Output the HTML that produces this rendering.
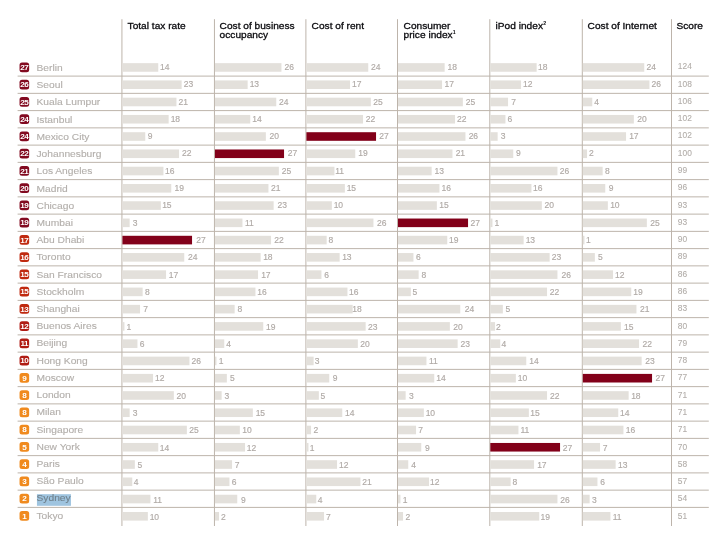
<!DOCTYPE html>
<html><head><meta charset="utf-8"><title>Cost index</title>
<style>
html,body{margin:0;padding:0;background:#fff;}
body{width:718px;height:536px;overflow:hidden;}
svg{display:block;font-family:"Liberation Sans",Arial,Helvetica,sans-serif;}
.ln{stroke:#bdb4ab;stroke-width:1;fill:none;}
.hd{font-size:9.8px;fill:#0a0a0e;stroke:#0a0a0e;stroke-width:0.3px;}
.sup{font-size:5.1px;font-weight:bold;stroke-width:0;}
.b{fill:#e3e0db;}
.m{fill:#820019;}
.n{font-size:8.5px;fill:#b0aaa6;stroke:#b0aaa6;stroke-width:0.15px;}
.s{font-size:8.4px;fill:#b3aeaa;stroke:#b3aeaa;stroke-width:0.1px;}
.c{font-size:9.4px;fill:#b3afab;stroke:#b3afab;stroke-width:0.12px;}
.k{font-size:7.4px;font-weight:bold;fill:#fff;text-anchor:middle;letter-spacing:-0.4px;}
.sel{fill:#9fc4df;}
.cs{fill:#6f808c;stroke:#6f808c;stroke-width:0.1px;}
</style></head><body>
<svg width="718" height="536" viewBox="0 0 718 536">

<line class="ln" x1="121.93" y1="19.2" x2="121.93" y2="526"/>
<line class="ln" x1="214.45" y1="19.2" x2="214.45" y2="526"/>
<line class="ln" x1="305.90" y1="19.2" x2="305.90" y2="526"/>
<line class="ln" x1="397.50" y1="19.2" x2="397.50" y2="526"/>
<line class="ln" x1="489.80" y1="19.2" x2="489.80" y2="526"/>
<line class="ln" x1="582.30" y1="19.2" x2="582.30" y2="526"/>
<line class="ln" x1="671.50" y1="19.2" x2="671.50" y2="526"/>
<line class="ln" x1="17.6" y1="76.10" x2="708.8" y2="76.10"/>
<line class="ln" x1="17.6" y1="93.35" x2="708.8" y2="93.35"/>
<line class="ln" x1="17.6" y1="110.60" x2="708.8" y2="110.60"/>
<line class="ln" x1="17.6" y1="127.86" x2="708.8" y2="127.86"/>
<line class="ln" x1="17.6" y1="145.11" x2="708.8" y2="145.11"/>
<line class="ln" x1="17.6" y1="162.36" x2="708.8" y2="162.36"/>
<line class="ln" x1="17.6" y1="179.61" x2="708.8" y2="179.61"/>
<line class="ln" x1="17.6" y1="196.86" x2="708.8" y2="196.86"/>
<line class="ln" x1="17.6" y1="214.12" x2="708.8" y2="214.12"/>
<line class="ln" x1="17.6" y1="231.37" x2="708.8" y2="231.37"/>
<line class="ln" x1="17.6" y1="248.62" x2="708.8" y2="248.62"/>
<line class="ln" x1="17.6" y1="265.87" x2="708.8" y2="265.87"/>
<line class="ln" x1="17.6" y1="283.12" x2="708.8" y2="283.12"/>
<line class="ln" x1="17.6" y1="300.38" x2="708.8" y2="300.38"/>
<line class="ln" x1="17.6" y1="317.63" x2="708.8" y2="317.63"/>
<line class="ln" x1="17.6" y1="334.88" x2="708.8" y2="334.88"/>
<line class="ln" x1="17.6" y1="352.13" x2="708.8" y2="352.13"/>
<line class="ln" x1="17.6" y1="369.38" x2="708.8" y2="369.38"/>
<line class="ln" x1="17.6" y1="386.64" x2="708.8" y2="386.64"/>
<line class="ln" x1="17.6" y1="403.89" x2="708.8" y2="403.89"/>
<line class="ln" x1="17.6" y1="421.14" x2="708.8" y2="421.14"/>
<line class="ln" x1="17.6" y1="438.39" x2="708.8" y2="438.39"/>
<line class="ln" x1="17.6" y1="455.64" x2="708.8" y2="455.64"/>
<line class="ln" x1="17.6" y1="472.90" x2="708.8" y2="472.90"/>
<line class="ln" x1="17.6" y1="490.15" x2="708.8" y2="490.15"/>
<line class="ln" x1="17.6" y1="507.40" x2="708.8" y2="507.40"/>
<text class="hd" transform="translate(127.60 28.70) scale(1.035 1)">Total tax rate</text>
<text class="hd" transform="translate(219.60 28.70) scale(1.035 1)">Cost of business</text>
<text class="hd" transform="translate(219.60 37.90) scale(1.035 1)">occupancy</text>
<text class="hd" transform="translate(311.60 28.70) scale(1.035 1)">Cost of rent</text>
<text class="hd" transform="translate(403.60 28.70) scale(1.035 1)">Consumer</text>
<text class="hd" transform="translate(403.60 37.90) scale(1.035 1)">price index<tspan class="sup" dx="0.2" dy="-3.5">1</tspan></text>
<text class="hd" transform="translate(495.60 28.70) scale(1.035 1)">iPod index<tspan class="sup" dx="0.2" dy="-3.5">2</tspan></text>
<text class="hd" transform="translate(587.60 28.70) scale(1.035 1)">Cost of Internet</text>
<text class="hd" transform="translate(676.50 28.70) scale(1.035 1)">Score</text>
<rect x="19.55" y="62.50" width="9.6" height="9.8" rx="2.5" fill="#820a20"/>
<text class="k" transform="translate(24.35 70.10) scale(1.1 1)">27</text>
<text class="c" transform="translate(36.50 71.05) scale(1.09 1)">Berlin</text>
<rect class="b" x="122.43" y="63.15" width="35.82" height="8.6"/>
<text class="n" transform="translate(160.03 69.95) scale(1.0 1)">14</text>
<rect class="b" x="214.95" y="63.15" width="66.50" height="8.6"/>
<text class="n" transform="translate(284.62 69.95) scale(1.0 1)">26</text>
<rect class="b" x="306.40" y="63.15" width="61.85" height="8.6"/>
<text class="n" transform="translate(371.12 69.95) scale(1.0 1)">24</text>
<rect class="b" x="398.00" y="63.15" width="46.65" height="8.6"/>
<text class="n" transform="translate(447.43 69.95) scale(1.0 1)">18</text>
<rect class="b" x="490.30" y="63.15" width="46.35" height="8.6"/>
<text class="n" transform="translate(537.93 69.95) scale(1.0 1)">18</text>
<rect class="b" x="582.80" y="63.15" width="61.45" height="8.6"/>
<text class="n" transform="translate(646.42 69.95) scale(1.0 1)">24</text>
<text class="s" transform="translate(677.85 69.35) scale(1.0 1)">124</text>
<rect x="19.55" y="79.75" width="9.6" height="9.8" rx="2.5" fill="#820a20"/>
<text class="k" transform="translate(24.35 87.35) scale(1.1 1)">26</text>
<text class="c" transform="translate(36.50 88.26) scale(1.09 1)">Seoul</text>
<rect class="b" x="122.43" y="80.41" width="59.22" height="8.6"/>
<text class="n" transform="translate(183.83 87.26) scale(1.0 1)">23</text>
<rect class="b" x="214.95" y="80.41" width="32.70" height="8.6"/>
<text class="n" transform="translate(249.63 87.26) scale(1.0 1)">13</text>
<rect class="b" x="306.40" y="80.41" width="43.65" height="8.6"/>
<text class="n" transform="translate(352.03 87.26) scale(1.0 1)">17</text>
<rect class="b" x="398.00" y="80.41" width="44.05" height="8.6"/>
<text class="n" transform="translate(444.53 87.26) scale(1.0 1)">17</text>
<rect class="b" x="490.30" y="80.41" width="30.75" height="8.6"/>
<text class="n" transform="translate(523.03 87.26) scale(1.0 1)">12</text>
<rect class="b" x="582.80" y="80.41" width="66.65" height="8.6"/>
<text class="n" transform="translate(651.62 87.26) scale(1.0 1)">26</text>
<text class="s" transform="translate(677.85 86.63) scale(1.0 1)">108</text>
<rect x="19.55" y="97.00" width="9.6" height="9.8" rx="2.5" fill="#820a20"/>
<text class="k" transform="translate(24.35 104.60) scale(1.1 1)">25</text>
<text class="c" transform="translate(36.50 105.47) scale(1.09 1)">Kuala Lumpur</text>
<rect class="b" x="122.43" y="97.68" width="54.02" height="8.6"/>
<text class="n" transform="translate(178.62 104.56) scale(1.0 1)">21</text>
<rect class="b" x="214.95" y="97.68" width="61.30" height="8.6"/>
<text class="n" transform="translate(278.93 104.56) scale(1.0 1)">24</text>
<rect class="b" x="306.40" y="97.68" width="64.45" height="8.6"/>
<text class="n" transform="translate(373.23 104.56) scale(1.0 1)">25</text>
<rect class="b" x="398.00" y="97.68" width="64.85" height="8.6"/>
<text class="n" transform="translate(465.73 104.56) scale(1.0 1)">25</text>
<rect class="b" x="490.30" y="97.68" width="17.75" height="8.6"/>
<text class="n" transform="translate(511.22 104.56) scale(1.0 1)">7</text>
<rect class="b" x="582.80" y="97.68" width="9.45" height="8.6"/>
<text class="n" transform="translate(594.35 104.56) scale(1.0 1)">4</text>
<text class="s" transform="translate(677.85 103.92) scale(1.0 1)">106</text>
<rect x="19.55" y="114.26" width="9.6" height="9.8" rx="2.5" fill="#820a20"/>
<text class="k" transform="translate(24.35 121.86) scale(1.1 1)">24</text>
<text class="c" transform="translate(36.50 122.69) scale(1.09 1)">Istanbul</text>
<rect class="b" x="122.43" y="114.94" width="46.22" height="8.6"/>
<text class="n" transform="translate(170.63 121.87) scale(1.0 1)">18</text>
<rect class="b" x="214.95" y="114.94" width="35.30" height="8.6"/>
<text class="n" transform="translate(252.23 121.87) scale(1.0 1)">14</text>
<rect class="b" x="306.40" y="114.94" width="56.65" height="8.6"/>
<text class="n" transform="translate(365.73 121.87) scale(1.0 1)">22</text>
<rect class="b" x="398.00" y="114.94" width="57.05" height="8.6"/>
<text class="n" transform="translate(456.93 121.87) scale(1.0 1)">22</text>
<rect class="b" x="490.30" y="114.94" width="15.15" height="8.6"/>
<text class="n" transform="translate(507.62 121.87) scale(1.0 1)">6</text>
<rect class="b" x="582.80" y="114.94" width="51.05" height="8.6"/>
<text class="n" transform="translate(637.33 121.87) scale(1.0 1)">20</text>
<text class="s" transform="translate(677.85 121.20) scale(1.0 1)">102</text>
<rect x="19.55" y="131.51" width="9.6" height="9.8" rx="2.5" fill="#820a20"/>
<text class="k" transform="translate(24.35 139.11) scale(1.1 1)">24</text>
<text class="c" transform="translate(36.50 139.90) scale(1.09 1)">Mexico City</text>
<rect class="b" x="122.43" y="132.21" width="22.82" height="8.6"/>
<text class="n" transform="translate(147.65 139.18) scale(1.0 1)">9</text>
<rect class="b" x="214.95" y="132.21" width="50.90" height="8.6"/>
<text class="n" transform="translate(269.53 139.18) scale(1.0 1)">20</text>
<rect class="m" x="306.40" y="132.21" width="69.65" height="8.6"/>
<text class="n" transform="translate(379.23 139.18) scale(1.0 1)">27</text>
<rect class="b" x="398.00" y="132.21" width="67.45" height="8.6"/>
<text class="n" transform="translate(468.63 139.18) scale(1.0 1)">26</text>
<rect class="b" x="490.30" y="132.21" width="7.35" height="8.6"/>
<text class="n" transform="translate(500.63 139.18) scale(1.0 1)">3</text>
<rect class="b" x="582.80" y="132.21" width="43.25" height="8.6"/>
<text class="n" transform="translate(629.13 139.18) scale(1.0 1)">17</text>
<text class="s" transform="translate(677.85 138.48) scale(1.0 1)">102</text>
<rect x="19.55" y="148.76" width="9.6" height="9.8" rx="2.5" fill="#820a20"/>
<text class="k" transform="translate(24.35 156.36) scale(1.1 1)">22</text>
<text class="c" transform="translate(36.50 157.11) scale(1.09 1)">Johannesburg</text>
<rect class="b" x="122.43" y="149.47" width="56.62" height="8.6"/>
<text class="n" transform="translate(181.93 156.48) scale(1.0 1)">22</text>
<rect class="m" x="214.95" y="149.47" width="69.10" height="8.6"/>
<text class="n" transform="translate(287.73 156.48) scale(1.0 1)">27</text>
<rect class="b" x="306.40" y="149.47" width="48.85" height="8.6"/>
<text class="n" transform="translate(358.33 156.48) scale(1.0 1)">19</text>
<rect class="b" x="398.00" y="149.47" width="54.45" height="8.6"/>
<text class="n" transform="translate(455.63 156.48) scale(1.0 1)">21</text>
<rect class="b" x="490.30" y="149.47" width="22.95" height="8.6"/>
<text class="n" transform="translate(515.95 156.48) scale(1.0 1)">9</text>
<rect class="b" x="582.80" y="149.47" width="4.25" height="8.6"/>
<text class="n" transform="translate(588.93 156.48) scale(1.0 1)">2</text>
<text class="s" transform="translate(677.85 155.76) scale(1.0 1)">100</text>
<rect x="19.55" y="166.01" width="9.6" height="9.8" rx="2.5" fill="#820a20"/>
<text class="k" transform="translate(24.35 173.61) scale(1.1 1)">21</text>
<text class="c" transform="translate(36.50 174.32) scale(1.09 1)">Los Angeles</text>
<rect class="b" x="122.43" y="166.73" width="41.02" height="8.6"/>
<text class="n" transform="translate(164.93 173.79) scale(1.0 1)">16</text>
<rect class="b" x="214.95" y="166.73" width="63.90" height="8.6"/>
<text class="n" transform="translate(281.73 173.79) scale(1.0 1)">25</text>
<rect class="b" x="306.40" y="166.73" width="28.05" height="8.6"/>
<text class="n" transform="translate(335.13 173.79) scale(1.0 1)">11</text>
<rect class="b" x="398.00" y="166.73" width="33.65" height="8.6"/>
<text class="n" transform="translate(434.43 173.79) scale(1.0 1)">13</text>
<rect class="b" x="490.30" y="166.73" width="67.15" height="8.6"/>
<text class="n" transform="translate(559.83 173.79) scale(1.0 1)">26</text>
<rect class="b" x="582.80" y="166.73" width="19.85" height="8.6"/>
<text class="n" transform="translate(605.08 173.79) scale(1.0 1)">8</text>
<text class="s" transform="translate(677.85 173.05) scale(1.0 1)">99</text>
<rect x="19.55" y="183.26" width="9.6" height="9.8" rx="2.5" fill="#820a20"/>
<text class="k" transform="translate(24.35 190.86) scale(1.1 1)">20</text>
<text class="c" transform="translate(36.50 191.53) scale(1.09 1)">Madrid</text>
<rect class="b" x="122.43" y="184.00" width="48.82" height="8.6"/>
<text class="n" transform="translate(174.53 191.10) scale(1.0 1)">19</text>
<rect class="b" x="214.95" y="184.00" width="53.50" height="8.6"/>
<text class="n" transform="translate(271.12 191.10) scale(1.0 1)">21</text>
<rect class="b" x="306.40" y="184.00" width="38.45" height="8.6"/>
<text class="n" transform="translate(346.63 191.10) scale(1.0 1)">15</text>
<rect class="b" x="398.00" y="184.00" width="41.45" height="8.6"/>
<text class="n" transform="translate(441.43 191.10) scale(1.0 1)">16</text>
<rect class="b" x="490.30" y="184.00" width="41.15" height="8.6"/>
<text class="n" transform="translate(532.93 191.10) scale(1.0 1)">16</text>
<rect class="b" x="582.80" y="184.00" width="22.45" height="8.6"/>
<text class="n" transform="translate(608.75 191.10) scale(1.0 1)">9</text>
<text class="s" transform="translate(677.85 190.33) scale(1.0 1)">96</text>
<rect x="19.55" y="200.52" width="9.6" height="9.8" rx="2.5" fill="#820a20"/>
<text class="k" transform="translate(24.35 208.12) scale(1.1 1)">19</text>
<text class="c" transform="translate(36.50 208.75) scale(1.09 1)">Chicago</text>
<rect class="b" x="122.43" y="201.26" width="38.42" height="8.6"/>
<text class="n" transform="translate(162.13 208.41) scale(1.0 1)">15</text>
<rect class="b" x="214.95" y="201.26" width="58.70" height="8.6"/>
<text class="n" transform="translate(277.62 208.41) scale(1.0 1)">23</text>
<rect class="b" x="306.40" y="201.26" width="25.45" height="8.6"/>
<text class="n" transform="translate(333.63 208.41) scale(1.0 1)">10</text>
<rect class="b" x="398.00" y="201.26" width="38.85" height="8.6"/>
<text class="n" transform="translate(439.33 208.41) scale(1.0 1)">15</text>
<rect class="b" x="490.30" y="201.26" width="51.55" height="8.6"/>
<text class="n" transform="translate(544.52 208.41) scale(1.0 1)">20</text>
<rect class="b" x="582.80" y="201.26" width="25.05" height="8.6"/>
<text class="n" transform="translate(610.13 208.41) scale(1.0 1)">10</text>
<text class="s" transform="translate(677.85 207.61) scale(1.0 1)">93</text>
<rect x="19.55" y="217.77" width="9.6" height="9.8" rx="2.5" fill="#820a20"/>
<text class="k" transform="translate(24.35 225.37) scale(1.1 1)">19</text>
<text class="c" transform="translate(36.50 225.96) scale(1.09 1)">Mumbai</text>
<rect class="b" x="122.43" y="218.53" width="7.22" height="8.6"/>
<text class="n" transform="translate(132.63 225.71) scale(1.0 1)">3</text>
<rect class="b" x="214.95" y="218.53" width="27.50" height="8.6"/>
<text class="n" transform="translate(244.93 225.71) scale(1.0 1)">11</text>
<rect class="b" x="306.40" y="218.53" width="67.05" height="8.6"/>
<text class="n" transform="translate(376.93 225.71) scale(1.0 1)">26</text>
<rect class="m" x="398.00" y="218.53" width="70.05" height="8.6"/>
<text class="n" transform="translate(470.43 225.71) scale(1.0 1)">27</text>
<rect class="b" x="490.30" y="218.53" width="2.15" height="8.6"/>
<text class="n" transform="translate(494.43 225.71) scale(1.0 1)">1</text>
<rect class="b" x="582.80" y="218.53" width="64.05" height="8.6"/>
<text class="n" transform="translate(650.33 225.71) scale(1.0 1)">25</text>
<text class="s" transform="translate(677.85 224.90) scale(1.0 1)">93</text>
<rect x="19.55" y="235.02" width="9.6" height="9.8" rx="2.5" fill="#c02a10"/>
<text class="k" transform="translate(24.35 242.62) scale(1.1 1)">17</text>
<text class="c" transform="translate(36.50 243.17) scale(1.09 1)">Abu Dhabi</text>
<rect class="m" x="122.43" y="235.79" width="69.62" height="8.6"/>
<text class="n" transform="translate(196.23 243.02) scale(1.0 1)">27</text>
<rect class="b" x="214.95" y="235.79" width="56.10" height="8.6"/>
<text class="n" transform="translate(274.23 243.02) scale(1.0 1)">22</text>
<rect class="b" x="306.40" y="235.79" width="20.25" height="8.6"/>
<text class="n" transform="translate(328.38 243.02) scale(1.0 1)">8</text>
<rect class="b" x="398.00" y="235.79" width="49.25" height="8.6"/>
<text class="n" transform="translate(449.03 243.02) scale(1.0 1)">19</text>
<rect class="b" x="490.30" y="235.79" width="33.35" height="8.6"/>
<text class="n" transform="translate(525.63 243.02) scale(1.0 1)">13</text>
<rect class="b" x="582.80" y="235.79" width="1.65" height="8.6"/>
<text class="n" transform="translate(585.93 243.02) scale(1.0 1)">1</text>
<text class="s" transform="translate(677.85 242.18) scale(1.0 1)">90</text>
<rect x="19.55" y="252.27" width="9.6" height="9.8" rx="2.5" fill="#c02a10"/>
<text class="k" transform="translate(24.35 259.87) scale(1.1 1)">16</text>
<text class="c" transform="translate(36.50 260.38) scale(1.09 1)">Toronto</text>
<rect class="b" x="122.43" y="253.05" width="61.82" height="8.6"/>
<text class="n" transform="translate(187.93 260.33) scale(1.0 1)">24</text>
<rect class="b" x="214.95" y="253.05" width="45.70" height="8.6"/>
<text class="n" transform="translate(263.13 260.33) scale(1.0 1)">18</text>
<rect class="b" x="306.40" y="253.05" width="33.25" height="8.6"/>
<text class="n" transform="translate(342.13 260.33) scale(1.0 1)">13</text>
<rect class="b" x="398.00" y="253.05" width="15.45" height="8.6"/>
<text class="n" transform="translate(416.12 260.33) scale(1.0 1)">6</text>
<rect class="b" x="490.30" y="253.05" width="59.35" height="8.6"/>
<text class="n" transform="translate(551.82 260.33) scale(1.0 1)">23</text>
<rect class="b" x="582.80" y="253.05" width="12.05" height="8.6"/>
<text class="n" transform="translate(598.11 260.33) scale(1.0 1)">5</text>
<text class="s" transform="translate(677.85 259.46) scale(1.0 1)">89</text>
<rect x="19.55" y="269.52" width="9.6" height="9.8" rx="2.5" fill="#c02a10"/>
<text class="k" transform="translate(24.35 277.12) scale(1.1 1)">15</text>
<text class="c" transform="translate(36.50 277.59) scale(1.09 1)">San Francisco</text>
<rect class="b" x="122.43" y="270.32" width="43.62" height="8.6"/>
<text class="n" transform="translate(168.83 277.63) scale(1.0 1)">17</text>
<rect class="b" x="214.95" y="270.32" width="43.10" height="8.6"/>
<text class="n" transform="translate(261.13 277.63) scale(1.0 1)">17</text>
<rect class="b" x="306.40" y="270.32" width="15.05" height="8.6"/>
<text class="n" transform="translate(324.32 277.63) scale(1.0 1)">6</text>
<rect class="b" x="398.00" y="270.32" width="20.65" height="8.6"/>
<text class="n" transform="translate(421.58 277.63) scale(1.0 1)">8</text>
<rect class="b" x="490.30" y="270.32" width="67.15" height="8.6"/>
<text class="n" transform="translate(561.43 277.63) scale(1.0 1)">26</text>
<rect class="b" x="582.80" y="270.32" width="30.25" height="8.6"/>
<text class="n" transform="translate(615.03 277.63) scale(1.0 1)">12</text>
<text class="s" transform="translate(677.85 276.75) scale(1.0 1)">86</text>
<rect x="19.55" y="286.78" width="9.6" height="9.8" rx="2.5" fill="#c02a10"/>
<text class="k" transform="translate(24.35 294.38) scale(1.1 1)">15</text>
<text class="c" transform="translate(36.50 294.81) scale(1.09 1)">Stockholm</text>
<rect class="b" x="122.43" y="287.58" width="20.22" height="8.6"/>
<text class="n" transform="translate(145.08 294.94) scale(1.0 1)">8</text>
<rect class="b" x="214.95" y="287.58" width="40.50" height="8.6"/>
<text class="n" transform="translate(257.23 294.94) scale(1.0 1)">16</text>
<rect class="b" x="306.40" y="287.58" width="41.05" height="8.6"/>
<text class="n" transform="translate(348.93 294.94) scale(1.0 1)">16</text>
<rect class="b" x="398.00" y="287.58" width="12.85" height="8.6"/>
<text class="n" transform="translate(412.61 294.94) scale(1.0 1)">5</text>
<rect class="b" x="490.30" y="287.58" width="56.75" height="8.6"/>
<text class="n" transform="translate(549.73 294.94) scale(1.0 1)">22</text>
<rect class="b" x="582.80" y="287.58" width="48.45" height="8.6"/>
<text class="n" transform="translate(633.23 294.94) scale(1.0 1)">19</text>
<text class="s" transform="translate(677.85 294.03) scale(1.0 1)">86</text>
<rect x="19.55" y="304.03" width="9.6" height="9.8" rx="2.5" fill="#c02a10"/>
<text class="k" transform="translate(24.35 311.63) scale(1.1 1)">13</text>
<text class="c" transform="translate(36.50 312.02) scale(1.09 1)">Shanghai</text>
<rect class="b" x="122.43" y="304.85" width="17.62" height="8.6"/>
<text class="n" transform="translate(143.22 312.25) scale(1.0 1)">7</text>
<rect class="b" x="214.95" y="304.85" width="19.70" height="8.6"/>
<text class="n" transform="translate(237.58 312.25) scale(1.0 1)">8</text>
<rect class="b" x="306.40" y="304.85" width="46.25" height="8.6"/>
<text class="n" transform="translate(352.33 312.25) scale(1.0 1)">18</text>
<rect class="b" x="398.00" y="304.85" width="62.25" height="8.6"/>
<text class="n" transform="translate(464.73 312.25) scale(1.0 1)">24</text>
<rect class="b" x="490.30" y="304.85" width="12.55" height="8.6"/>
<text class="n" transform="translate(505.61 312.25) scale(1.0 1)">5</text>
<rect class="b" x="582.80" y="304.85" width="53.65" height="8.6"/>
<text class="n" transform="translate(640.12 312.25) scale(1.0 1)">21</text>
<text class="s" transform="translate(677.85 311.31) scale(1.0 1)">83</text>
<rect x="19.55" y="321.28" width="9.6" height="9.8" rx="2.5" fill="#b01c14"/>
<text class="k" transform="translate(24.35 328.88) scale(1.1 1)">12</text>
<text class="c" transform="translate(36.50 329.23) scale(1.09 1)">Buenos Aires</text>
<rect class="b" x="122.43" y="322.11" width="2.02" height="8.6"/>
<text class="n" transform="translate(126.43 329.56) scale(1.0 1)">1</text>
<rect class="b" x="214.95" y="322.11" width="48.30" height="8.6"/>
<text class="n" transform="translate(266.03 329.56) scale(1.0 1)">19</text>
<rect class="b" x="306.40" y="322.11" width="59.25" height="8.6"/>
<text class="n" transform="translate(368.03 329.56) scale(1.0 1)">23</text>
<rect class="b" x="398.00" y="322.11" width="51.85" height="8.6"/>
<text class="n" transform="translate(453.33 329.56) scale(1.0 1)">20</text>
<rect class="b" x="490.30" y="322.11" width="4.75" height="8.6"/>
<text class="n" transform="translate(496.12 329.56) scale(1.0 1)">2</text>
<rect class="b" x="582.80" y="322.11" width="38.05" height="8.6"/>
<text class="n" transform="translate(623.93 329.56) scale(1.0 1)">15</text>
<text class="s" transform="translate(677.85 328.59) scale(1.0 1)">80</text>
<rect x="19.55" y="338.53" width="9.6" height="9.8" rx="2.5" fill="#b01c14"/>
<text class="k" transform="translate(24.35 346.13) scale(1.1 1)">11</text>
<text class="c" transform="translate(36.50 346.44) scale(1.09 1)">Beijing</text>
<rect class="b" x="122.43" y="339.37" width="15.02" height="8.6"/>
<text class="n" transform="translate(139.82 346.86) scale(1.0 1)">6</text>
<rect class="b" x="214.95" y="339.37" width="9.30" height="8.6"/>
<text class="n" transform="translate(226.15 346.86) scale(1.0 1)">4</text>
<rect class="b" x="306.40" y="339.37" width="51.45" height="8.6"/>
<text class="n" transform="translate(360.23 346.86) scale(1.0 1)">20</text>
<rect class="b" x="398.00" y="339.37" width="59.65" height="8.6"/>
<text class="n" transform="translate(460.53 346.86) scale(1.0 1)">23</text>
<rect class="b" x="490.30" y="339.37" width="9.95" height="8.6"/>
<text class="n" transform="translate(501.55 346.86) scale(1.0 1)">4</text>
<rect class="b" x="582.80" y="339.37" width="56.25" height="8.6"/>
<text class="n" transform="translate(642.53 346.86) scale(1.0 1)">22</text>
<text class="s" transform="translate(677.85 345.88) scale(1.0 1)">79</text>
<rect x="19.55" y="355.78" width="9.6" height="9.8" rx="2.5" fill="#b01c14"/>
<text class="k" transform="translate(24.35 363.38) scale(1.1 1)">10</text>
<text class="c" transform="translate(36.50 363.65) scale(1.09 1)">Hong Kong</text>
<rect class="b" x="122.43" y="356.64" width="67.02" height="8.6"/>
<text class="n" transform="translate(191.62 364.17) scale(1.0 1)">26</text>
<rect class="b" x="214.95" y="356.64" width="1.50" height="8.6"/>
<text class="n" transform="translate(218.73 364.17) scale(1.0 1)">1</text>
<rect class="b" x="306.40" y="356.64" width="7.25" height="8.6"/>
<text class="n" transform="translate(314.63 364.17) scale(1.0 1)">3</text>
<rect class="b" x="398.00" y="356.64" width="28.45" height="8.6"/>
<text class="n" transform="translate(428.93 364.17) scale(1.0 1)">11</text>
<rect class="b" x="490.30" y="356.64" width="35.95" height="8.6"/>
<text class="n" transform="translate(529.33 364.17) scale(1.0 1)">14</text>
<rect class="b" x="582.80" y="356.64" width="58.85" height="8.6"/>
<text class="n" transform="translate(645.32 364.17) scale(1.0 1)">23</text>
<text class="s" transform="translate(677.85 363.16) scale(1.0 1)">78</text>
<rect x="19.55" y="373.04" width="9.6" height="9.8" rx="2.5" fill="#f08a1e"/>
<text class="k" transform="translate(24.30 380.64) scale(1.1 1)">9</text>
<text class="c" transform="translate(36.50 380.87) scale(1.09 1)">Moscow</text>
<rect class="b" x="122.43" y="373.90" width="30.62" height="8.6"/>
<text class="n" transform="translate(155.03 381.48) scale(1.0 1)">12</text>
<rect class="b" x="214.95" y="373.90" width="11.90" height="8.6"/>
<text class="n" transform="translate(230.11 381.48) scale(1.0 1)">5</text>
<rect class="b" x="306.40" y="373.90" width="22.85" height="8.6"/>
<text class="n" transform="translate(332.75 381.48) scale(1.0 1)">9</text>
<rect class="b" x="398.00" y="373.90" width="36.25" height="8.6"/>
<text class="n" transform="translate(436.23 381.48) scale(1.0 1)">14</text>
<rect class="b" x="490.30" y="373.90" width="25.55" height="8.6"/>
<text class="n" transform="translate(517.83 381.48) scale(1.0 1)">10</text>
<rect class="m" x="582.80" y="373.90" width="69.25" height="8.6"/>
<text class="n" transform="translate(655.53 381.48) scale(1.0 1)">27</text>
<text class="s" transform="translate(677.85 380.44) scale(1.0 1)">77</text>
<rect x="19.55" y="390.29" width="9.6" height="9.8" rx="2.5" fill="#f08a1e"/>
<text class="k" transform="translate(24.30 397.89) scale(1.1 1)">8</text>
<text class="c" transform="translate(36.50 398.08) scale(1.09 1)">London</text>
<rect class="b" x="122.43" y="391.17" width="51.42" height="8.6"/>
<text class="n" transform="translate(176.53 398.78) scale(1.0 1)">20</text>
<rect class="b" x="214.95" y="391.17" width="6.70" height="8.6"/>
<text class="n" transform="translate(224.43 398.78) scale(1.0 1)">3</text>
<rect class="b" x="306.40" y="391.17" width="12.45" height="8.6"/>
<text class="n" transform="translate(320.61 398.78) scale(1.0 1)">5</text>
<rect class="b" x="398.00" y="391.17" width="7.65" height="8.6"/>
<text class="n" transform="translate(408.93 398.78) scale(1.0 1)">3</text>
<rect class="b" x="490.30" y="391.17" width="56.75" height="8.6"/>
<text class="n" transform="translate(549.93 398.78) scale(1.0 1)">22</text>
<rect class="b" x="582.80" y="391.17" width="45.85" height="8.6"/>
<text class="n" transform="translate(631.13 398.78) scale(1.0 1)">18</text>
<text class="s" transform="translate(677.85 397.73) scale(1.0 1)">71</text>
<rect x="19.55" y="407.54" width="9.6" height="9.8" rx="2.5" fill="#f08a1e"/>
<text class="k" transform="translate(24.30 415.14) scale(1.1 1)">8</text>
<text class="c" transform="translate(36.50 415.29) scale(1.09 1)">Milan</text>
<rect class="b" x="122.43" y="408.43" width="7.22" height="8.6"/>
<text class="n" transform="translate(132.63 416.09) scale(1.0 1)">3</text>
<rect class="b" x="214.95" y="408.43" width="37.90" height="8.6"/>
<text class="n" transform="translate(255.63 416.09) scale(1.0 1)">15</text>
<rect class="b" x="306.40" y="408.43" width="35.85" height="8.6"/>
<text class="n" transform="translate(345.03 416.09) scale(1.0 1)">14</text>
<rect class="b" x="398.00" y="408.43" width="25.85" height="8.6"/>
<text class="n" transform="translate(425.63 416.09) scale(1.0 1)">10</text>
<rect class="b" x="490.30" y="408.43" width="38.55" height="8.6"/>
<text class="n" transform="translate(530.33 416.09) scale(1.0 1)">15</text>
<rect class="b" x="582.80" y="408.43" width="35.45" height="8.6"/>
<text class="n" transform="translate(620.03 416.09) scale(1.0 1)">14</text>
<text class="s" transform="translate(677.85 415.01) scale(1.0 1)">71</text>
<rect x="19.55" y="424.79" width="9.6" height="9.8" rx="2.5" fill="#f08a1e"/>
<text class="k" transform="translate(24.30 432.39) scale(1.1 1)">8</text>
<text class="c" transform="translate(36.50 432.50) scale(1.09 1)">Singapore</text>
<rect class="b" x="122.43" y="425.69" width="64.42" height="8.6"/>
<text class="n" transform="translate(189.22 433.40) scale(1.0 1)">25</text>
<rect class="b" x="214.95" y="425.69" width="24.90" height="8.6"/>
<text class="n" transform="translate(242.33 433.40) scale(1.0 1)">10</text>
<rect class="b" x="306.40" y="425.69" width="4.65" height="8.6"/>
<text class="n" transform="translate(313.43 433.40) scale(1.0 1)">2</text>
<rect class="b" x="398.00" y="425.69" width="18.05" height="8.6"/>
<text class="n" transform="translate(418.22 433.40) scale(1.0 1)">7</text>
<rect class="b" x="490.30" y="425.69" width="28.15" height="8.6"/>
<text class="n" transform="translate(520.43 433.40) scale(1.0 1)">11</text>
<rect class="b" x="582.80" y="425.69" width="40.65" height="8.6"/>
<text class="n" transform="translate(625.73 433.40) scale(1.0 1)">16</text>
<text class="s" transform="translate(677.85 432.29) scale(1.0 1)">71</text>
<rect x="19.55" y="442.04" width="9.6" height="9.8" rx="2.5" fill="#f08a1e"/>
<text class="k" transform="translate(24.30 449.64) scale(1.1 1)">5</text>
<text class="c" transform="translate(36.50 449.71) scale(1.09 1)">New York</text>
<rect class="b" x="122.43" y="442.96" width="35.82" height="8.6"/>
<text class="n" transform="translate(159.73 450.70) scale(1.0 1)">14</text>
<rect class="b" x="214.95" y="442.96" width="30.10" height="8.6"/>
<text class="n" transform="translate(246.83 450.70) scale(1.0 1)">12</text>
<rect class="b" x="306.40" y="442.96" width="2.05" height="8.6"/>
<text class="n" transform="translate(309.73 450.70) scale(1.0 1)">1</text>
<rect class="b" x="398.00" y="442.96" width="23.25" height="8.6"/>
<text class="n" transform="translate(424.95 450.70) scale(1.0 1)">9</text>
<rect class="m" x="490.30" y="442.96" width="69.75" height="8.6"/>
<text class="n" transform="translate(562.73 450.70) scale(1.0 1)">27</text>
<rect class="b" x="582.80" y="442.96" width="17.25" height="8.6"/>
<text class="n" transform="translate(602.72 450.70) scale(1.0 1)">7</text>
<text class="s" transform="translate(677.85 449.58) scale(1.0 1)">70</text>
<rect x="19.55" y="459.30" width="9.6" height="9.8" rx="2.5" fill="#f08a1e"/>
<text class="k" transform="translate(24.30 466.90) scale(1.1 1)">4</text>
<text class="c" transform="translate(36.50 466.93) scale(1.09 1)">Paris</text>
<rect class="b" x="122.43" y="460.22" width="12.42" height="8.6"/>
<text class="n" transform="translate(137.61 468.01) scale(1.0 1)">5</text>
<rect class="b" x="214.95" y="460.22" width="17.10" height="8.6"/>
<text class="n" transform="translate(234.72 468.01) scale(1.0 1)">7</text>
<rect class="b" x="306.40" y="460.22" width="30.65" height="8.6"/>
<text class="n" transform="translate(339.03 468.01) scale(1.0 1)">12</text>
<rect class="b" x="398.00" y="460.22" width="10.25" height="8.6"/>
<text class="n" transform="translate(411.15 468.01) scale(1.0 1)">4</text>
<rect class="b" x="490.30" y="460.22" width="43.75" height="8.6"/>
<text class="n" transform="translate(537.13 468.01) scale(1.0 1)">17</text>
<rect class="b" x="582.80" y="460.22" width="32.85" height="8.6"/>
<text class="n" transform="translate(617.93 468.01) scale(1.0 1)">13</text>
<text class="s" transform="translate(677.85 466.86) scale(1.0 1)">58</text>
<rect x="19.55" y="476.55" width="9.6" height="9.8" rx="2.5" fill="#f08a1e"/>
<text class="k" transform="translate(24.30 484.15) scale(1.1 1)">3</text>
<text class="c" transform="translate(36.50 484.14) scale(1.09 1)">São Paulo</text>
<rect class="b" x="122.43" y="477.49" width="9.82" height="8.6"/>
<text class="n" transform="translate(133.85 485.32) scale(1.0 1)">4</text>
<rect class="b" x="214.95" y="477.49" width="14.50" height="8.6"/>
<text class="n" transform="translate(231.82 485.32) scale(1.0 1)">6</text>
<rect class="b" x="306.40" y="477.49" width="54.05" height="8.6"/>
<text class="n" transform="translate(362.33 485.32) scale(1.0 1)">21</text>
<rect class="b" x="398.00" y="477.49" width="31.05" height="8.6"/>
<text class="n" transform="translate(430.03 485.32) scale(1.0 1)">12</text>
<rect class="b" x="490.30" y="477.49" width="20.35" height="8.6"/>
<text class="n" transform="translate(512.58 485.32) scale(1.0 1)">8</text>
<rect class="b" x="582.80" y="477.49" width="14.65" height="8.6"/>
<text class="n" transform="translate(600.32 485.32) scale(1.0 1)">6</text>
<text class="s" transform="translate(677.85 484.14) scale(1.0 1)">57</text>
<rect x="19.55" y="493.80" width="9.6" height="9.8" rx="2.5" fill="#f08a1e"/>
<text class="k" transform="translate(24.30 501.40) scale(1.1 1)">2</text>
<rect class="sel" x="36.95" y="494.20" width="34.0" height="11.6"/>
<text class="c cs" transform="translate(36.50 501.35) scale(1.09 1)">Sydney</text>
<rect class="b" x="122.43" y="494.75" width="28.02" height="8.6"/>
<text class="n" transform="translate(153.23 502.62) scale(1.0 1)">11</text>
<rect class="b" x="214.95" y="494.75" width="22.30" height="8.6"/>
<text class="n" transform="translate(240.95 502.62) scale(1.0 1)">9</text>
<rect class="b" x="306.40" y="494.75" width="9.85" height="8.6"/>
<text class="n" transform="translate(317.85 502.62) scale(1.0 1)">4</text>
<rect class="b" x="398.00" y="494.75" width="2.45" height="8.6"/>
<text class="n" transform="translate(402.73 502.62) scale(1.0 1)">1</text>
<rect class="b" x="490.30" y="494.75" width="67.15" height="8.6"/>
<text class="n" transform="translate(560.33 502.62) scale(1.0 1)">26</text>
<rect class="b" x="582.80" y="494.75" width="6.85" height="8.6"/>
<text class="n" transform="translate(591.93 502.62) scale(1.0 1)">3</text>
<text class="s" transform="translate(677.85 501.42) scale(1.0 1)">54</text>
<rect x="19.55" y="511.05" width="9.6" height="9.8" rx="2.5" fill="#f08a1e"/>
<text class="k" transform="translate(24.30 518.65) scale(1.1 1)">1</text>
<text class="c" transform="translate(36.50 518.56) scale(1.09 1)">Tokyo</text>
<rect class="b" x="122.43" y="512.01" width="25.42" height="8.6"/>
<text class="n" transform="translate(149.63 519.93) scale(1.0 1)">10</text>
<rect class="b" x="214.95" y="512.01" width="4.10" height="8.6"/>
<text class="n" transform="translate(220.92 519.93) scale(1.0 1)">2</text>
<rect class="b" x="306.40" y="512.01" width="17.65" height="8.6"/>
<text class="n" transform="translate(325.92 519.93) scale(1.0 1)">7</text>
<rect class="b" x="398.00" y="512.01" width="5.05" height="8.6"/>
<text class="n" transform="translate(405.43 519.93) scale(1.0 1)">2</text>
<rect class="b" x="490.30" y="512.01" width="48.95" height="8.6"/>
<text class="n" transform="translate(540.53 519.93) scale(1.0 1)">19</text>
<rect class="b" x="582.80" y="512.01" width="27.65" height="8.6"/>
<text class="n" transform="translate(612.73 519.93) scale(1.0 1)">11</text>
<text class="s" transform="translate(677.85 518.71) scale(1.0 1)">51</text>
</svg></body></html>
